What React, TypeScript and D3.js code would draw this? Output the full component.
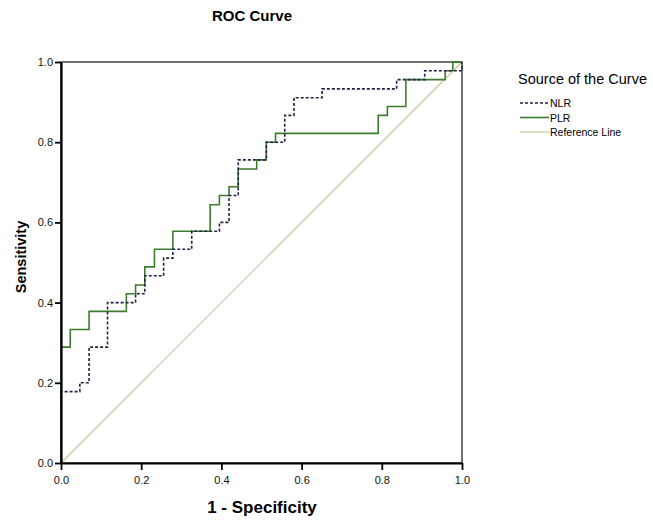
import * as d3 from 'd3';
import { useRef, useEffect } from 'react';

// ROC points (1 - specificity, sensitivity)
const nlrFpr = [0, 0, 0.047, 0.047, 0.070, 0.070, 0.116, 0.116, 0.186, 0.186, 0.209, 0.209, 0.256, 0.256, 0.279, 0.279, 0.326, 0.326, 0.395, 0.395, 0.419, 0.419, 0.442, 0.442, 0.512, 0.512, 0.558, 0.558, 0.581, 0.581, 0.651, 0.651, 0.837, 0.837, 0.907, 0.907, 1, 1];
const nlrTpr = [0, 0.178, 0.178, 0.2, 0.2, 0.289, 0.289, 0.4, 0.4, 0.422, 0.422, 0.467, 0.467, 0.511, 0.511, 0.533, 0.533, 0.578, 0.578, 0.6, 0.6, 0.667, 0.667, 0.756, 0.756, 0.8, 0.8, 0.867, 0.867, 0.911, 0.911, 0.933, 0.933, 0.956, 0.956, 0.978, 0.978, 1];

const plrFpr = [0, 0, 0.023, 0.023, 0.070, 0.070, 0.163, 0.163, 0.186, 0.186, 0.209, 0.209, 0.233, 0.233, 0.279, 0.279, 0.372, 0.372, 0.395, 0.395, 0.419, 0.419, 0.442, 0.442, 0.488, 0.488, 0.512, 0.512, 0.535, 0.535, 0.791, 0.791, 0.814, 0.814, 0.860, 0.860, 0.958, 0.958, 0.977, 0.977, 1];
const plrTpr = [0, 0.289, 0.289, 0.333, 0.333, 0.378, 0.378, 0.422, 0.422, 0.444, 0.444, 0.489, 0.489, 0.533, 0.533, 0.578, 0.578, 0.644, 0.644, 0.667, 0.667, 0.689, 0.689, 0.733, 0.733, 0.756, 0.756, 0.8, 0.8, 0.822, 0.822, 0.867, 0.867, 0.889, 0.889, 0.956, 0.956, 0.978, 0.978, 1, 1];

const refFpr = [0, 1];
const refTpr = [0, 1];

const ticks = [0, 0.2, 0.4, 0.6, 0.8, 1.0];

const seriesNames = ['NLR', 'PLR', 'Reference Line'];
const seriesColors = ['#1f2444', '#3c7d2c', '#c9c59b'];
const seriesDash = ['3,2', null, null];

const FONT = '"Liberation Sans", Arial, sans-serif';

function RocChart({ width = 653, height = 522 }) {
    const svgRef = useRef<SVGSVGElement | null>(null);

    useEffect(() => {
        const svg = d3.select(svgRef.current)
            .attr('width', width)
            .attr('height', height);
        svg.selectAll('*').remove();

        const left = 61, right = 462, top = 62, bottom = 463;

        const x = d3.scaleLinear().domain([0, 1]).range([left, right]);
        const y = d3.scaleLinear().domain([0, 1]).range([bottom, top]);

        svg.append('rect')
            .attr('width', width).attr('height', height).attr('fill', '#fff');

        // title
        svg.append('text')
            .attr('x', 252).attr('y', 21)
            .attr('text-anchor', 'middle')
            .attr('font-family', FONT)
            .attr('font-weight', 'bold')
            .attr('font-size', 15)
            .text('ROC Curve');

        // frame
        svg.append('rect')
            .attr('x', left).attr('y', top)
            .attr('width', right - left).attr('height', bottom - top)
            .attr('fill', 'none')
            .attr('stroke', '#222')
            .attr('stroke-width', 1.3);

        // curves
        const line = d3.line<[number, number]>()
            .x(d => x(d[0]))
            .y(d => y(d[1]));

        const curves: [number, number][][] = [
            nlrFpr.map((v, i) => [v, nlrTpr[i]]),
            plrFpr.map((v, i) => [v, plrTpr[i]]),
            refFpr.map((v, i) => [v, refTpr[i]]),
        ];

        // draw reference first, then PLR, then NLR on top
        [2, 1, 0].forEach(i => {
            const p = svg.append('path')
                .attr('d', line(curves[i]))
                .attr('fill', 'none')
                .attr('stroke', seriesColors[i])
                .attr('stroke-width', i === 2 ? 1.2 : 1.6);
            if (seriesDash[i]) p.attr('stroke-dasharray', seriesDash[i]);
        });

        // axes
        const xAxis = svg.append('g')
            .attr('transform', `translate(0,${bottom})`)
            .call(d3.axisBottom(x).tickValues(ticks).tickSize(7).tickSizeOuter(0).tickFormat(d3.format('.1f')));
        const yAxis = svg.append('g')
            .attr('transform', `translate(${left},0)`)
            .call(d3.axisLeft(y).tickValues(ticks).tickSize(6).tickSizeOuter(0).tickFormat(d3.format('.1f')));

        [xAxis, yAxis].forEach(a => {
            a.select('.domain').attr('stroke', '#000').attr('stroke-width', 2.2);
            a.selectAll('.tick line').attr('stroke', '#000').attr('stroke-width', 1.8);
            a.selectAll('.tick text')
                .attr('font-family', FONT)
                .attr('font-size', 11)
                .attr('fill', '#111');
        });
        xAxis.selectAll('.tick text').attr('y', 13);
        yAxis.selectAll('.tick text').attr('x', -8);

        // axis labels
        svg.append('text')
            .attr('x', 262).attr('y', 513)
            .attr('text-anchor', 'middle')
            .attr('font-family', FONT)
            .attr('font-weight', 'bold')
            .attr('font-size', 17)
            .text('1 - Specificity');

        svg.append('text')
            .attr('transform', 'translate(26,257) rotate(-90)')
            .attr('text-anchor', 'middle')
            .attr('font-family', FONT)
            .attr('font-weight', 'bold')
            .attr('font-size', 14.5)
            .text('Sensitivity');

        // legend
        const legend = svg.append('g');
        legend.append('text')
            .attr('x', 518).attr('y', 84)
            .attr('font-family', FONT)
            .attr('font-size', 14.5)
            .text('Source of the Curve');

        seriesNames.forEach((name, i) => {
            const ly = 103 + i * 14.5;
            const l = legend.append('line')
                .attr('x1', 520).attr('x2', 549)
                .attr('y1', ly).attr('y2', ly)
                .attr('stroke', seriesColors[i])
                .attr('stroke-width', i === 2 ? 1.2 : 1.6);
            if (seriesDash[i]) l.attr('stroke-dasharray', seriesDash[i]);
            legend.append('text')
                .attr('x', 550).attr('y', ly + 4)
                .attr('font-family', FONT)
                .attr('font-size', 10.5)
                .text(name);
        });
    }, [width, height]);

    return <svg ref={svgRef} style={{ position: 'absolute', left: 0, top: 0, display: 'block' }}></svg>;
}

export default function App() {
    return <RocChart />;
}
